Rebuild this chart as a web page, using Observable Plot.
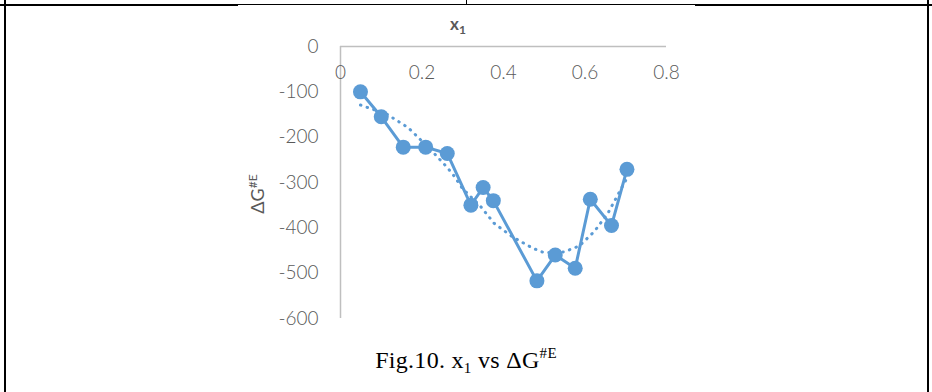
<!DOCTYPE html>
<html>
<head>
<meta charset="utf-8">
<script src="https://cdn.jsdelivr.net/npm/d3@7"></script>
<script src="https://cdn.jsdelivr.net/npm/@observablehq/plot@0.6"></script>
<style>
  html, body { margin: 0; padding: 0; background: #fff; }
  #page { position: relative; width: 932px; height: 392px; overflow: hidden; background: #fff; }
  .ln { position: absolute; background: #000; }
  #chart { position: absolute; left: 0; top: 0; }
  #caption { position: absolute; left: 0; width: 932px; top: 345px; text-align: center;
    font-family: "Liberation Serif", "Times New Roman", serif; font-size: 24px; color: #000; letter-spacing: 0.3px; }
  #caption sub { font-size: 15px; vertical-align: -5px; }
  #caption sup { font-size: 15px; vertical-align: 10px; }
</style>
</head>
<body>
<div id="page">
  <div class="ln" style="left:0;top:4px;width:238px;height:2px"></div>
  <div class="ln" style="left:238px;top:4px;width:457px;height:1px"></div>
  <div class="ln" style="left:695px;top:4px;width:237px;height:2px"></div>
  <div class="ln" style="left:466px;top:0;width:1px;height:5px"></div>
  <div class="ln" style="left:4px;top:0;width:2px;height:392px"></div>
  <div class="ln" style="left:927px;top:0;width:2px;height:392px"></div>
  <div id="chart"></div>
  <div id="caption">Fig.10. x<sub>1</sub> vs ΔG<sup>#E</sup></div>
</div>
<script>
// Data
const x1 = [0.049, 0.100, 0.154, 0.209, 0.262, 0.320, 0.350, 0.375, 0.482, 0.527, 0.576, 0.613, 0.665, 0.703];
const dG = [-100, -155, -222, -222, -236, -350, -311, -340, -517, -460, -489, -337, -395, -271];
// Dotted trendline
const trendX = [0.049, 0.115, 0.166, 0.190, 0.230, 0.262, 0.280, 0.299, 0.344, 0.377, 0.422, 0.472, 0.500, 0.549, 0.586, 0.623, 0.656, 0.685, 0.703];
const trendY = [-129, -150, -179, -200, -236, -267, -287, -313, -353, -390, -420, -445, -455, -453, -440, -408, -368, -320, -290];
const xTicks = [0, 0.2, 0.4, 0.6, 0.8];
const yTicks = [0, -100, -200, -300, -400, -500, -600];

const points = x1.map((x, i) => ({x, y: dG[i]}));
const trend = trendX.map((x, i) => ({x, y: trendY[i]}));

const blue = "#5b9bd5";
const axisGray = "#bfbfbf";

const plot = Plot.plot({
  width: 932,
  height: 340,
  marginLeft: 340,
  marginRight: 266,
  marginTop: 46,
  marginBottom: 22,
  style: {fontFamily: "Lato, sans-serif", fontSize: "19px", color: "#595959", background: "transparent", fontWeight: 300},
  x: {domain: [0, 0.8], axis: null},
  y: {domain: [-600, 0], axis: null},
  marks: [
    Plot.ruleY([0], {x1: 0, x2: 0.8, stroke: axisGray, strokeWidth: 1.5}),
    Plot.ruleX([0], {y1: 0, y2: -600, stroke: axisGray, strokeWidth: 1.5}),
    Plot.axisY({ticks: yTicks, tickSize: 0, tickPadding: 22, tickFormat: d => String(d), label: null}),
    Plot.text(xTicks, {x: d => d, y: d => 0, dy: 26, text: d => String(d), fill: "#595959"}),
    Plot.line(trend, {x: "x", y: "y", stroke: blue, strokeWidth: 3, strokeDasharray: "0.5 6.5", strokeLinecap: "round"}),
    Plot.line(points, {x: "x", y: "y", stroke: blue, strokeWidth: 3}),
    Plot.dot(points, {x: "x", y: "y", r: 7.5, fill: blue, stroke: "none"})
  ]
});
document.getElementById("chart").appendChild(plot);

const svg = d3.select(plot);
// x axis title
const xt = svg.append("text")
  .attr("x", 458).attr("y", 30)
  .attr("text-anchor", "middle")
  .attr("fill", "#595959")
  .style("font-family", "Lato, sans-serif").style("font-size", "17px").style("font-weight", "700");
xt.append("tspan").text("x");
xt.append("tspan").attr("dy", 4).style("font-size", "12px").text("1");

// y axis title
const yt = svg.append("text")
  .attr("transform", "translate(264,194) rotate(-90)")
  .attr("text-anchor", "middle")
  .attr("fill", "#595959")
  .style("font-family", "Lato, sans-serif").style("font-size", "18px").style("font-weight", "400");
yt.append("tspan").text("ΔG");
yt.append("tspan").attr("dy", -7).style("font-size", "12px").text("#E");
</script>
</body>
</html>
